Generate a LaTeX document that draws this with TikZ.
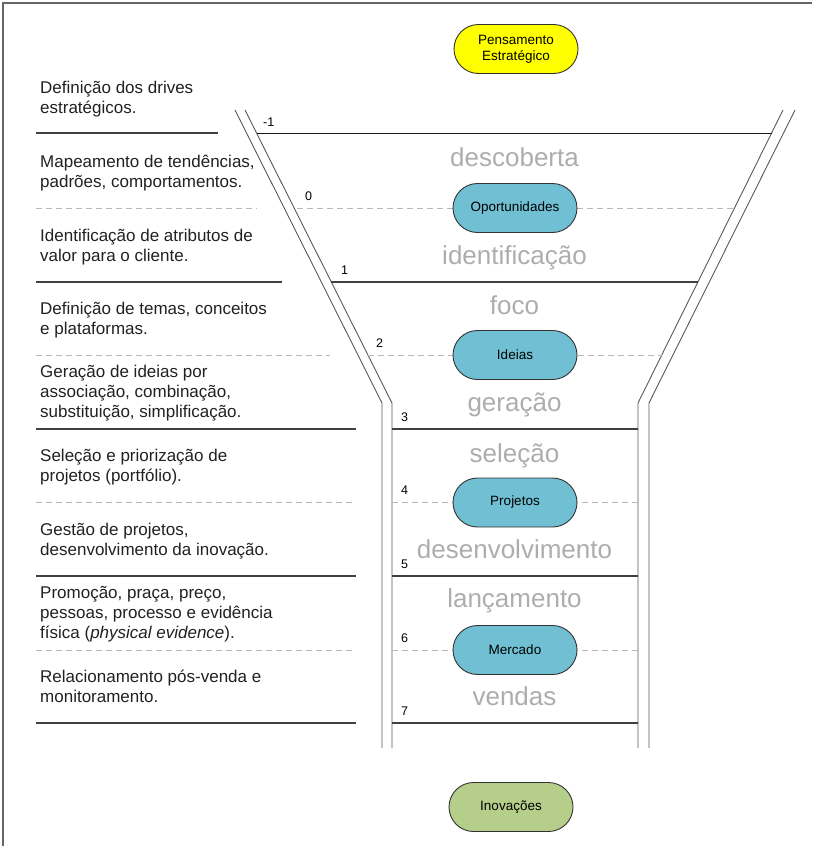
\documentclass[tikz,border=0pt]{standalone}
\usepackage{fontspec}
\setmainfont{Liberation Sans}
\usetikzlibrary{shapes.misc}
\definecolor{pillblue}{RGB}{112,191,211}
\definecolor{pillgreen}{RGB}{181,206,137}
\definecolor{pillyellow}{RGB}{255,255,0}
\tikzset{
  pill/.style={rounded rectangle, draw=black!80, line width=0.9pt, minimum width=124pt, minimum height=49pt, font=\fontsize{13.5}{16}\selectfont, align=center, inner sep=0pt},
  stage/.style={text=black!32, font=\fontsize{26}{30}\selectfont, anchor=base, inner sep=0pt},
  num/.style={font=\fontsize{12.5}{14}\selectfont, anchor=base west, inner sep=0pt},
  desc/.style={font=\fontsize{17}{20}\selectfont, anchor=base west, align=left, inner sep=0pt, text=black!87},
  sep/.style={draw=black!75, line width=1.1pt},
  dsep/.style={draw=black!28, dash pattern=on 6pt off 4pt, line width=1pt},
  wall/.style={draw=black!65, line width=0.9pt}
}
\begin{document}
\begin{tikzpicture}[x=1pt,y=-1pt]
\useasboundingbox (0,0) rectangle (812,846);
% frame
\draw[black!60, line width=1.2pt] (3,846) -- (3,3) -- (812,3);
% funnel walls
\coordinate (LoT) at (235,110); \coordinate (LoB) at (382,403); \coordinate (LoE) at (382,748);
\coordinate (LiT) at (245,110); \coordinate (LiB) at (392,403); \coordinate (LiE) at (392,748);
\coordinate (RiT) at (783,110); \coordinate (RiB) at (638,403); \coordinate (RiE) at (638,748);
\coordinate (RoT) at (795,110); \coordinate (RoB) at (649,403); \coordinate (RoE) at (649,748);
\draw[wall] (LoT) -- (LoB) -- (LoE);
\draw[wall] (LiT) -- (LiB) -- (LiE);
\draw[wall] (RiT) -- (RiB) -- (RiE);
\draw[wall] (RoT) -- (RoB) -- (RoE);
% funnel level lines
\draw[draw=black!90, line width=0.9pt] (257,133) -- (772,133);
\draw[dsep] (297,208) -- (734,208);
\draw[sep] (331,282) -- (698,282);
\draw[dsep] (368,355) -- (662,355);
\draw[sep] (392,429) -- (638,429);
\draw[dsep] (392,502) -- (638,502);
\draw[sep] (392,576) -- (638,576);
\draw[dsep] (392,650) -- (638,650);
\draw[sep] (392,723) -- (638,723);
% left separators
\draw[sep] (36,133) -- (218,133);
\draw[dsep] (36,208) -- (257,208);
\draw[sep] (36,282) -- (282,282);
\draw[dsep] (36,355) -- (330,355);
\draw[sep] (36,429) -- (356,429);
\draw[dsep] (36,502) -- (352,502);
\draw[sep] (36,576) -- (356,576);
\draw[dsep] (36,650) -- (356,650);
\draw[sep] (36,723) -- (356,723);
% level numbers
\node[num] (n-1) at (263,126) {-1};
\node[num] (n0) at (305,200) {0};
\node[num] (n1) at (341,274) {1};
\node[num] (n2) at (376,347) {2};
\node[num] (n3) at (401,421) {3};
\node[num] (n4) at (401,494) {4};
\node[num] (n5) at (401,568) {5};
\node[num] (n6) at (401,642) {6};
\node[num] (n7) at (401,715) {7};
% stage labels
\node[stage] (s1) at (514.5,166) {descoberta};
\node[stage] (s2) at (514.5,264) {identificação};
\node[stage] (s3) at (514.5,314) {foco};
\node[stage] (s4) at (514.5,411) {geração};
\node[stage] (s5) at (514.5,462) {seleção};
\node[stage] (s6) at (514.5,558) {desenvolvimento};
\node[stage] (s7) at (514.5,607) {lançamento};
\node[stage] (s8) at (514.5,705) {vendas};
% pills
\node[pill, fill=pillyellow] (pens) at (516,49) {Pensamento\\Estratégico};
\node[pill, fill=pillblue] (op) at (515,208) {Oportunidades};
\node[pill, fill=pillblue] (ide) at (515,355) {Ideias};
\node[pill, fill=pillblue] (proj) at (515,502.5) {Projetos};
\node[pill, fill=pillblue] (merc) at (515,650) {Mercado};
\node[pill, fill=pillgreen] (inov) at (511,807) {Inovações};
% descriptions (anchor = baseline of last line)
\node[desc] (d1) at (40,113) {Definição dos drives\\estratégicos.};
\node[desc] (d2) at (40,187) {Mapeamento de tendências,\\padrões, comportamentos.};
\node[desc] (d3) at (40,261) {Identificação de atributos de\\valor para o cliente.};
\node[desc] (d4) at (40,334) {Definição de temas, conceitos\\e plataformas.};
\node[desc] (d5) at (40,417) {Geração de ideias por\\associação, combinação,\\substituição, simplificação.};
\node[desc] (d6) at (40,481) {Seleção e priorização de\\projetos (portfólio).};
\node[desc] (d7) at (40,555) {Gestão de projetos,\\desenvolvimento da inovação.};
\node[desc] (d8) at (40,638) {Promoção, praça, preço,\\pessoas, processo e evidência\\física (\textit{physical evidence}).};
\node[desc] (d9) at (40,702) {Relacionamento pós-venda e\\monitoramento.};
\end{tikzpicture}
\end{document}
